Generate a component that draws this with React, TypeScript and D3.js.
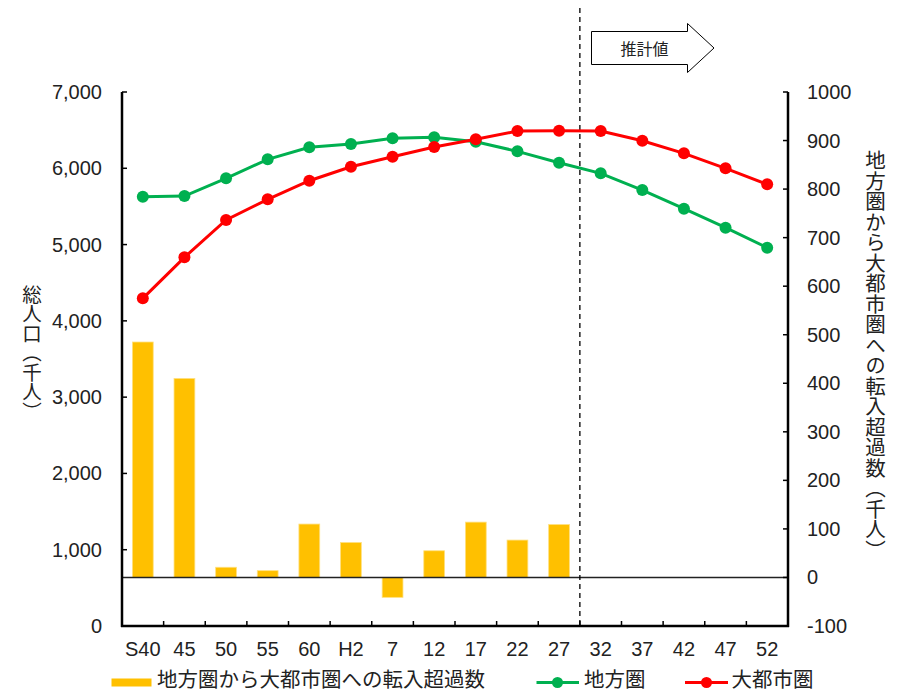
import React from "react";
import * as d3 from "d3";

// Survey years (Showa / Heisei era labels); 32 onward are projections
const categories = ["S40", "45", "50", "55", "60", "H2", "7", "12", "17", "22", "27", "32", "37", "42", "47", "52"];
// Net inflow from regional areas into major metropolitan areas (thousand people)
const netInflow: (number | null)[] = [485, 410, 21, 14, 110, 72, -41, 55, 114, 77, 109, null, null, null, null, null];
// Total population, regional areas (thousand people)
const regionalPop = [5627, 5636, 5868, 6117, 6275, 6318, 6393, 6406, 6348, 6222, 6073, 5934, 5715, 5470, 5221, 4959];
// Total population, major metropolitan areas (thousand people)
const metroPop = [4295, 4833, 5322, 5593, 5837, 6020, 6151, 6279, 6380, 6488, 6492, 6488, 6361, 6196, 5999, 5790];

const leftTicks = [0, 1000, 2000, 3000, 4000, 5000, 6000, 7000];
const rightTicks = [-100, 0, 100, 200, 300, 400, 500, 600, 700, 800, 900, 1000];
const projectionStart = "32";

const W = 900;
const H = 693;
const plot = { left: 122, right: 788, top: 92, bottom: 626 };

const BAR = "#FFC000";
const GREEN = "#00B050";
const RED = "#FF0000";
const NUM_FONT = "'Liberation Sans', Arial, sans-serif";
const JP_FONT = "'Noto Sans CJK JP', 'Noto Sans', sans-serif";

export default function App() {
  const x = d3.scaleBand<string>().domain(categories).range([plot.left, plot.right]).paddingInner(0).paddingOuter(0);
  const yL = d3.scaleLinear().domain([0, 7000]).range([plot.bottom, plot.top]);
  const yR = d3.scaleLinear().domain([-100, 1000]).range([plot.bottom, plot.top]);
  const bw = x.bandwidth();
  const cx = (c: string) => (x(c) as number) + bw / 2;

  const line = d3
    .line<number>()
    .x((_, i) => cx(categories[i]))
    .y((v) => yL(v));

  const fmt = d3.format(",");
  const zeroY = yR(0);
  const splitX = x(projectionStart) as number;

  // Projection arrow
  const ax0 = 591.5, ax1 = 687.5, atip = 714, ayTop = 31.5, ayBot = 64.5, ahTop = 23.5, ahBot = 72.5, ayMid = 48;
  const arrowPts = [
    [ax0, ayTop], [ax1, ayTop], [ax1, ahTop], [atip, ayMid], [ax1, ahBot], [ax1, ayBot], [ax0, ayBot],
  ].map((p) => p.join(",")).join(" ");

  const legendY = 682.5;
  const legendBase = 687;

  return (
    <svg width={W} height={H} style={{ position: "absolute", left: 0, top: 0, background: "#fff" }}>
      {/* bars on the right axis */}
      {netInflow.map((v, i) =>
        v === null ? null : (
          <rect
            key={"b" + i}
            x={cx(categories[i]) - bw * 0.25}
            width={bw * 0.5}
            y={Math.min(yR(v), zeroY)}
            height={Math.abs(yR(v) - zeroY)}
            fill={BAR}
            stroke="#FFE080"
            strokeWidth={0.8}
          />
        )
      )}

      {/* zero line of the right axis */}
      <line x1={plot.left} x2={plot.right} y1={zeroY} y2={zeroY} stroke="#222" strokeWidth={1.4} />

      {/* projection divider */}
      <line x1={splitX} x2={splitX} y1={8} y2={plot.bottom} stroke="#000" strokeWidth={1.3} strokeDasharray="5,4" />

      {/* population lines */}
      <path d={line(regionalPop) || ""} fill="none" stroke={GREEN} strokeWidth={3} />
      {regionalPop.map((v, i) => (
        <circle key={"g" + i} cx={cx(categories[i])} cy={yL(v)} r={6} fill={GREEN} />
      ))}
      <path d={line(metroPop) || ""} fill="none" stroke={RED} strokeWidth={3} />
      {metroPop.map((v, i) => (
        <circle key={"r" + i} cx={cx(categories[i])} cy={yL(v)} r={6} fill={RED} />
      ))}

      {/* axes */}
      <line x1={plot.left} x2={plot.left} y1={plot.top} y2={plot.bottom + 1} stroke="#000" strokeWidth={2.5} />
      <line x1={plot.right} x2={plot.right} y1={plot.top} y2={plot.bottom + 1} stroke="#000" strokeWidth={2.5} />
      <line x1={plot.left - 1} x2={plot.right + 1} y1={plot.bottom} y2={plot.bottom} stroke="#000" strokeWidth={2.5} />

      {leftTicks.map((t) => (
        <g key={"lt" + t}>
          <line x1={plot.left} x2={plot.left + 5} y1={yL(t)} y2={yL(t)} stroke="#000" strokeWidth={1.5} />
          <text x={102} y={yL(t)} textAnchor="end" dominantBaseline="central" fontFamily={NUM_FONT} fontSize={20} fill="#222">
            {fmt(t)}
          </text>
        </g>
      ))}
      {rightTicks.map((t) => (
        <g key={"rt" + t}>
          <line x1={plot.right - 5} x2={plot.right} y1={yR(t)} y2={yR(t)} stroke="#000" strokeWidth={1.5} />
          <text x={807} y={yR(t)} textAnchor="start" dominantBaseline="central" fontFamily={NUM_FONT} fontSize={20} fill="#222">
            {t < 0 ? "-" + Math.abs(t) : String(t)}
          </text>
        </g>
      ))}
      {categories.map((c, i) =>
        i === 0 ? null : (
          <line key={"xt" + c} x1={x(c)} x2={x(c)} y1={plot.bottom} y2={plot.bottom - 5} stroke="#000" strokeWidth={1.5} />
        )
      )}
      {categories.map((c) => (
        <text key={"xl" + c} x={cx(c)} y={649} textAnchor="middle" dominantBaseline="central" fontFamily={NUM_FONT} fontSize={20} fill="#222">
          {c}
        </text>
      ))}

      {/* axis titles */}
      <text
        x={32}
        y={353}
        textAnchor="middle"
        fontFamily={JP_FONT}
        fontSize={19.5}
        fill="#222"
        style={{ writingMode: "vertical-rl" } as React.CSSProperties}
      >
        総人口（千人）
      </text>
      <text
        x={875.5}
        y={355}
        textAnchor="middle"
        fontFamily={JP_FONT}
        fontSize={20.5}
        fill="#222"
        style={{ writingMode: "vertical-rl" } as React.CSSProperties}
      >
        地方圏から大都市圏への転入超過数（千人）
      </text>

      {/* projection arrow */}
      <polygon points={arrowPts} fill="#fff" stroke="#000" strokeWidth={1} />
      <text x={644.5} y={ayMid} textAnchor="middle" dominantBaseline="central" fontFamily={JP_FONT} fontSize={16} fill="#222">
        推計値
      </text>

      {/* legend */}
      <rect x={111.5} y={legendY - 4} width={40} height={8} fill={BAR} />
      <text x={157} y={legendBase} fontFamily={JP_FONT} fontSize={20.5} fill="#222">
        地方圏から大都市圏への転入超過数
      </text>
      <line x1={536.5} x2={579} y1={legendY} y2={legendY} stroke={GREEN} strokeWidth={3} />
      <circle cx={557.5} cy={legendY} r={5.5} fill={GREEN} />
      <text x={584} y={legendBase} fontFamily={JP_FONT} fontSize={20.5} fill="#222">
        地方圏
      </text>
      <line x1={685} x2={728} y1={legendY} y2={legendY} stroke={RED} strokeWidth={3} />
      <circle cx={706.5} cy={legendY} r={5.5} fill={RED} />
      <text x={731.5} y={legendBase} fontFamily={JP_FONT} fontSize={20.5} fill="#222">
        大都市圏
      </text>
    </svg>
  );
}
